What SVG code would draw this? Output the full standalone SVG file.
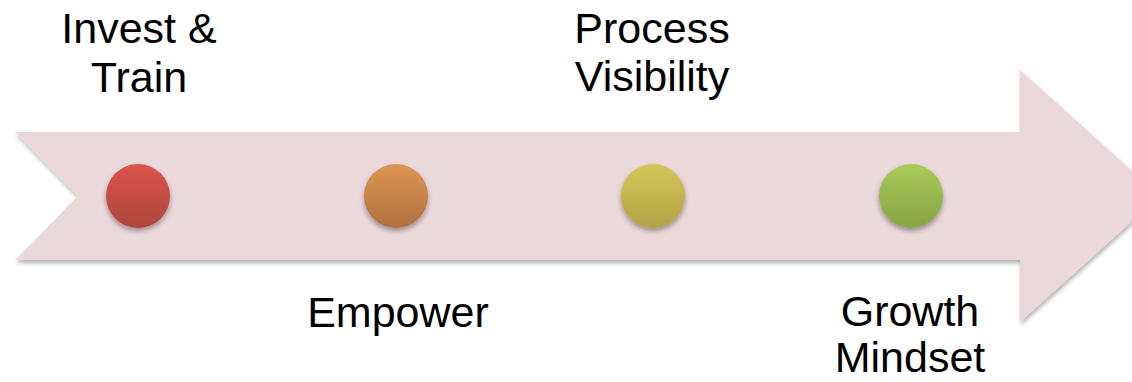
<svg xmlns="http://www.w3.org/2000/svg" width="1132" height="382" viewBox="0 0 1132 382">
<style>
.lbl{font-family:"Liberation Sans",Arial,sans-serif;font-size:43px;fill:#000;text-anchor:middle}
</style>
<defs>
<filter id="sh" x="-10%" y="-20%" width="120%" height="140%">
<feDropShadow dx="1" dy="3" stdDeviation="2" flood-color="#000" flood-opacity="0.3"/>
</filter>
<filter id="csh" x="-30%" y="-30%" width="160%" height="170%">
<feDropShadow dx="0" dy="3" stdDeviation="2.5" flood-color="#000" flood-opacity="0.35"/>
</filter>
<linearGradient id="gR" x1="0" y1="0" x2="0" y2="1"><stop offset="0" stop-color="#DB544A"/><stop offset="1" stop-color="#AE463D"/></linearGradient>
<linearGradient id="gO" x1="0" y1="0" x2="0" y2="1"><stop offset="0" stop-color="#DC9552"/><stop offset="1" stop-color="#B0703F"/></linearGradient>
<linearGradient id="gY" x1="0" y1="0" x2="0" y2="1"><stop offset="0" stop-color="#D5C65A"/><stop offset="1" stop-color="#B3A244"/></linearGradient>
<linearGradient id="gG" x1="0" y1="0" x2="0" y2="1"><stop offset="0" stop-color="#AACB57"/><stop offset="1" stop-color="#86A447"/></linearGradient>
</defs>
<g id="arrow">
<polygon points="15,132 1020,132 1020,70 1160,196 1020,322 1020,260 15,260 78,196" fill="#EBD8DA" filter="url(#sh)"/>
</g>
<g id="connectors"></g>
<g id="node1">
<circle cx="138" cy="196" r="32" fill="url(#gR)" filter="url(#csh)"/>
<text class="lbl" x="139" y="43">Invest &amp;</text>
<text class="lbl" x="139" y="92">Train</text>
</g>
<g id="node2">
<circle cx="396" cy="196" r="32" fill="url(#gO)" filter="url(#csh)"/>
<text class="lbl" x="398" y="327">Empower</text>
</g>
<g id="node3">
<circle cx="653" cy="196" r="32" fill="url(#gY)" filter="url(#csh)"/>
<text class="lbl" x="652" y="43">Process</text>
<text class="lbl" x="652" y="91">Visibility</text>
</g>
<g id="node4">
<circle cx="911" cy="196" r="32" fill="url(#gG)" filter="url(#csh)"/>
<text class="lbl" x="910" y="326">Growth</text>
<text class="lbl" x="910" y="372">Mindset</text>
</g>
</svg>
